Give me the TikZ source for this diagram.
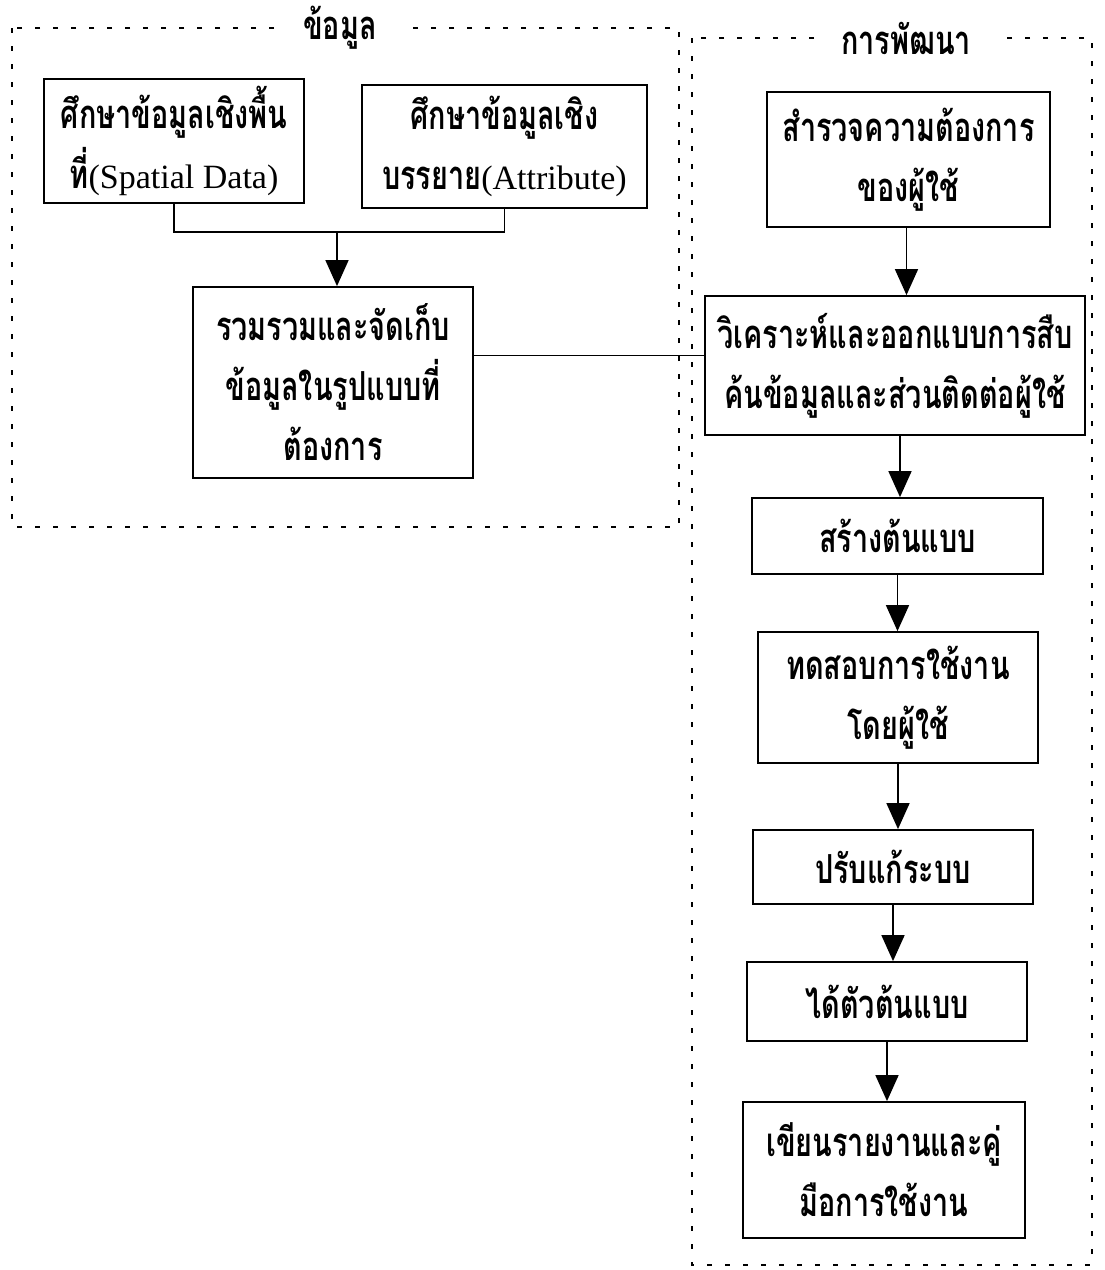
\documentclass[tikz,border=0pt]{standalone}
\usepackage{fontspec}
\newfontfamily\thaifont[Script=Thai,FakeStretch=0.72]{Loma}
\newfontfamily\latinfont{Liberation Serif}
\usetikzlibrary{arrows.meta}
\begin{document}
\begin{tikzpicture}[x=1pt,y=-1pt,
  box/.style={draw,line width=1.8pt,align=center,inner sep=0pt,
    font=\thaifont\bfseries\fontsize{40}{60}\selectfont},
  frame/.style={line width=2.2pt,dash pattern=on 5pt off 13pt},
  ttl/.style={fill=white,inner xsep=24pt,inner ysep=4pt,
    font=\thaifont\bfseries\fontsize{40}{46}\selectfont},
  conn/.style={line width=1.6pt},
  arr/.style={conn,-{Triangle[width=23pt,length=26pt]}},
  lat/.style={}]
\useasboundingbox (0,0) rectangle (1104,1270);
\fill[white] (0,0) rectangle (1104,1270);

% frames
\draw[frame] (12,28) rectangle (679,527);
\draw[frame] (692,38) rectangle (1092,1265);
\node[ttl] (t1) at (340,28) {ข้อมูล};
\node[ttl] (t2) at (906,38) {การพัฒนา};

% left column
\node[box,minimum width=260pt,minimum height=124pt] (b1) at (174,141)
  {ศึกษาข้อมูลเชิงพื้น\\ที่{\latinfont\mdseries\fontsize{34}{60}\selectfont(Spatial Data)}};
\node[box,minimum width=285pt,minimum height=123pt] (b2) at (504.5,146.5)
  {ศึกษาข้อมูลเชิง\\บรรยาย{\latinfont\mdseries\fontsize{34}{60}\selectfont(Attribute)}};
\node[box,minimum width=280pt,minimum height=191pt] (b3) at (333,382.5)
  {รวมรวมและจัดเก็บ\\ข้อมูลในรูปแบบที่\\ต้องการ};
\coordinate (j) at (337,232);

% right column
\node[box,minimum width=283pt,minimum height=135pt] (b4) at (908.5,159.5)
  {สำรวจความต้องการ\\ของผู้ใช้};
\node[box,minimum width=380pt,minimum height=139pt] (b5) at (895,365.5)
  {วิเคราะห์และออกแบบการสืบ\\ค้นข้อมูลและส่วนติดต่อผู้ใช้};
\node[box,minimum width=291pt,minimum height=76pt] (b6) at (897.5,536)
  {สร้างต้นแบบ};
\node[box,minimum width=280pt,minimum height=131pt] (b7) at (898,697.5)
  {ทดสอบการใช้งาน\\โดยผู้ใช้};
\node[box,minimum width=280pt,minimum height=74pt] (b8) at (893,867)
  {ปรับแก้ระบบ};
\node[box,minimum width=280pt,minimum height=79pt] (b9) at (887,1001.5)
  {ได้ตัวต้นแบบ};
\node[box,minimum width=282pt,minimum height=136pt] (b10) at (884,1170)
  {เขียนรายงานและคู่\\มือการใช้งาน};

% connectors
\draw[conn] (b1.south) |- (j) -| (b2.south);
\draw[arr] (j) -- (j |- b3.north);
\draw[conn] ([yshift=27pt]b3.east) -- ([yshift=27pt]b3.east -| b5.west);
\draw[arr] ([xshift=-2pt]b4.south) -- ([xshift=-2pt]b4.south |- b5.north);
\draw[arr] ([xshift=5pt]b5.south) -- ([xshift=5pt]b5.south |- b6.north);
\draw[arr] (b6.south) -- (b6.south |- b7.north);
\draw[arr] (b7.south) -- (b7.south |- b8.north);
\draw[arr] (b8.south) -- (b8.south |- b9.north);
\draw[arr] (b9.south) -- (b9.south |- b10.north);
\end{tikzpicture}
\end{document}
